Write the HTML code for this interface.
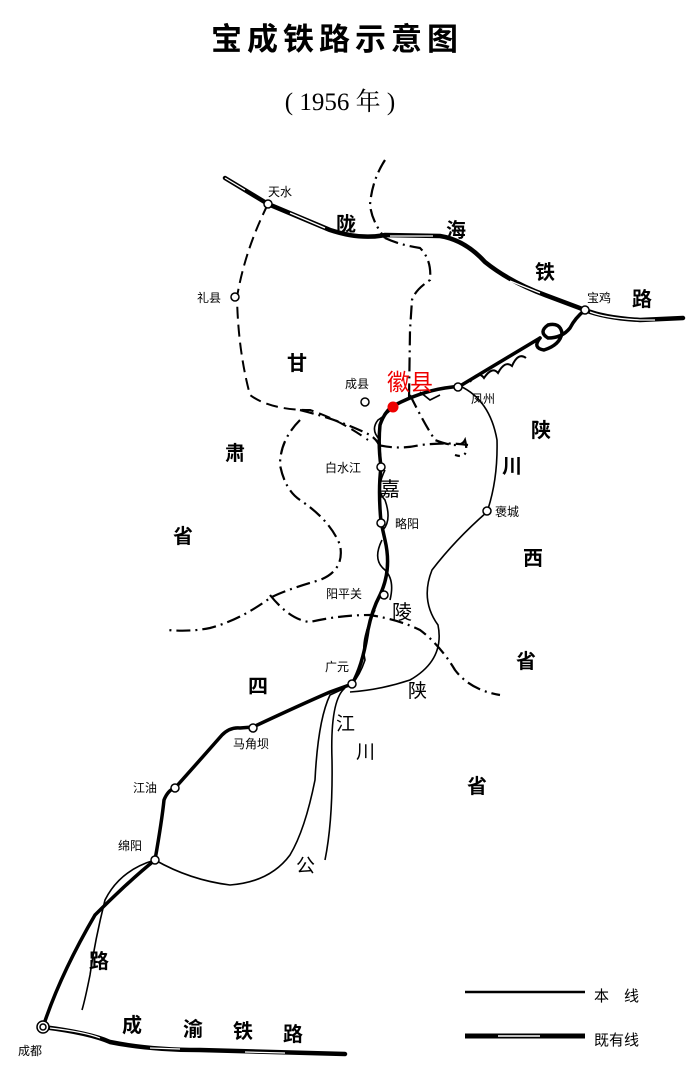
<!DOCTYPE html>
<html><head><meta charset="utf-8"><style>
html,body{margin:0;padding:0;background:#fff}
svg{display:block}
text{font-family:"Liberation Sans","Noto Sans CJK SC",sans-serif;fill:#000}
.b{font-weight:bold;font-size:20px}
.s{font-size:12px}
.th{fill:none;stroke:#000;stroke-width:1.6}
.mn{fill:none;stroke:#000;stroke-width:3.5;stroke-linejoin:round;stroke-linecap:round}
.dd{fill:none;stroke:#000;stroke-width:2.2;stroke-dasharray:14 5 2 5}
.ds{fill:none;stroke:#000;stroke-width:2;stroke-dasharray:12 6}
.st{fill:#fff;stroke:#000;stroke-width:1.5}
</style></head><body>
<svg width="700" height="1066" viewBox="0 0 700 1066" xmlns="http://www.w3.org/2000/svg">
<text x="337" y="50" font-size="31" font-weight="bold" text-anchor="middle" letter-spacing="5">宝成铁路示意图</text>
<text x="340" y="110" text-anchor="middle" style="font-family:'Liberation Serif','Noto Serif CJK SC',serif;font-size:25px">( 1956 年 )</text>

<!-- Longhai railway -->
<path class="mn" d="M225,178 L268,204 L330,230 Q360,240 385,235 L440,236 Q465,240 485,262 Q510,282 545,295 L585,310 Q605,318 640,320 L683,318" style="stroke-width:4.5"/>
<path fill="none" stroke="#fff" stroke-width="1.3" d="M225,178 L245,190 M290,213 L325,228 M390,236 L433,236 M510,281 L540,293 M590,312 Q605,318 640,320 L655,320"/>

<!-- province borders / dash-dot -->
<path class="dd" d="M385,160 Q372,180 370,205 Q372,222 385,238"/>
<path class="dd" d="M385,238 Q400,245 420,248 Q432,260 430,280 Q415,290 412,300 L410,330 L409,400"/>
<path class="dd" d="M410,395 Q425,425 435,440 Q460,450 465,440 Q470,460 455,455"/>
<path class="dd" d="M378,445 Q400,450 420,445 Q450,442 468,445"/>
<path class="dd" d="M300,410 Q340,420 370,435 Q385,445 378,460"/>
<path class="dd" d="M300,420 Q280,440 280,465 Q285,490 300,500 Q330,520 340,545 Q345,570 320,580 Q285,590 270,598 Q240,620 210,628 Q190,632 168,630"/>
<path class="dd" d="M270,595 Q290,620 310,622 Q340,615 370,615 Q400,620 420,630 Q440,645 455,670 Q470,690 500,695"/>
<path class="ds" d="M268,204 Q245,250 237,297 Q238,350 250,395 Q270,410 310,410 Q340,420 368,440"/>

<!-- roads thin -->
<path class="th" d="M460,386 Q490,400 497,440 Q498,480 487,512 Q455,540 432,570 Q420,600 438,625 Q445,660 410,680 Q380,690 350,692"/>
<path class="th" d="M155,860 Q190,880 230,885 Q270,882 290,855 Q305,830 315,780 Q318,720 330,695 L345,688"/>
<path class="th" d="M345,688 Q330,700 332,760 Q333,820 325,860"/>
<path class="th" d="M155,860 Q120,870 105,900 Q95,940 90,975 Q85,1000 82,1010"/>
<path class="th" d="M380,440 Q370,430 378,420 Q390,412 395,405 M385,470 Q375,490 385,500 Q392,520 383,530 M382,540 Q372,560 385,570 Q395,580 390,600 M375,610 Q360,640 365,660 Q360,675 352,684"/>
<path class="th" d="M420,392 L430,400 L440,395"/>

<!-- main line 宝成 -->
<path class="mn" d="M43,1027 Q60,975 95,915 Q130,880 155,860 Q162,820 164,800 Q168,790 175,788 Q200,760 222,735 Q230,727 240,728 L253,727 Q300,705 330,692 L352,684 Q363,665 368,630 Q372,610 380,595 Q392,570 385,540 L381,522 Q378,490 381,467 Q378,445 380,425 Q385,410 395,405 Q420,392 445,388 L460,386 L540,338"/>
<path class="th" d="M470,382 Q478,370 484,378 Q492,366 498,373 Q505,360 512,366 Q518,352 526,358" style="stroke-width:2"/>
<path class="mn" d="M540,338 Q532,348 544,350 Q560,345 562,333 Q560,322 548,325 Q538,332 548,338 Q562,338 570,328 Q575,318 585,310" style="stroke-width:3.5"/>

<!-- Chengyu railway -->
<path class="mn" d="M43,1027 Q90,1033 110,1042 Q150,1050 200,1050 L345,1054" style="stroke-width:4.5"/>
<path fill="none" stroke="#fff" stroke-width="1.2" d="M50,1028 Q85,1032 100,1038 M150,1048 L180,1049 M245,1052 L285,1053"/>

<!-- stations -->
<circle class="st" cx="268" cy="204" r="4"/>
<circle class="st" cx="235" cy="297" r="4"/>
<circle class="st" cx="585" cy="310" r="4"/>
<circle class="st" cx="365" cy="402" r="4"/>
<circle class="st" cx="458" cy="387" r="4"/>
<circle class="st" cx="381" cy="467" r="4"/>
<circle class="st" cx="381" cy="523" r="4"/>
<circle class="st" cx="384" cy="595" r="4"/>
<circle class="st" cx="487" cy="511" r="4"/>
<circle class="st" cx="352" cy="684" r="4"/>
<circle class="st" cx="253" cy="728" r="4"/>
<circle class="st" cx="175" cy="788" r="4"/>
<circle class="st" cx="155" cy="860" r="4"/>
<circle class="st" cx="43" cy="1027" r="6"/>
<circle class="st" cx="43" cy="1027" r="3"/>
<circle cx="393" cy="407" r="5.5" fill="#e00"/>

<!-- station labels -->
<text class="s" x="268" y="196">天水</text>
<text class="s" x="197" y="302">礼县</text>
<text class="s" x="587" y="302" font-size="13">宝鸡</text>
<text class="s" x="345" y="388">成县</text>
<text x="387" y="390" font-size="23" style="fill:#e00">徽县</text>
<text class="s" x="471" y="403">凤州</text>
<text class="s" x="325" y="472">白水江</text>
<text class="s" x="395" y="528">略阳</text>
<text class="s" x="495" y="516">褒城</text>
<text class="s" x="326" y="598">阳平关</text>
<text class="s" x="325" y="671">广元</text>
<text class="s" x="233" y="748">马角坝</text>
<text class="s" x="133" y="792">江油</text>
<text class="s" x="118" y="850">绵阳</text>
<text class="s" x="18" y="1055">成都</text>

<!-- big labels -->
<text class="b" x="336" y="231">陇</text>
<text class="b" x="446" y="237">海</text>
<text class="b" x="535" y="279">铁</text>
<text class="b" x="632" y="306">路</text>
<text class="b" x="287" y="370">甘</text>
<text class="b" x="225" y="460">肃</text>
<text class="b" x="173" y="543">省</text>
<text class="b" x="531" y="437">陕</text>
<text class="b" x="502" y="473">川</text>
<text class="b" x="523" y="565">西</text>
<text class="b" x="516" y="668">省</text>
<text class="b" x="248" y="693">四</text>
<text class="b" x="467" y="793">省</text>
<text x="380" y="496" font-size="20">嘉</text>
<text x="392" y="619" font-size="20">陵</text>
<text x="408" y="697" font-size="19">陕</text>
<text x="336" y="730" font-size="19">江</text>
<text x="356" y="758" font-size="19">川</text>
<text x="296" y="872" font-size="19">公</text>
<text class="b" x="89" y="968">路</text>
<text class="b" x="122" y="1032">成</text>
<text class="b" x="183" y="1036">渝</text>
<text class="b" x="233" y="1038">铁</text>
<text class="b" x="283" y="1041">路</text>

<!-- legend -->
<line x1="465" y1="992" x2="585" y2="992" stroke="#000" stroke-width="2.5"/>
<text x="594" y="1001" font-size="15">本　线</text>
<line x1="465" y1="1036" x2="585" y2="1036" stroke="#000" stroke-width="5"/>
<line x1="498" y1="1036" x2="540" y2="1036" stroke="#fff" stroke-width="1.4"/>
<text x="594" y="1045" font-size="15">既有线</text>
</svg>
</body></html>
